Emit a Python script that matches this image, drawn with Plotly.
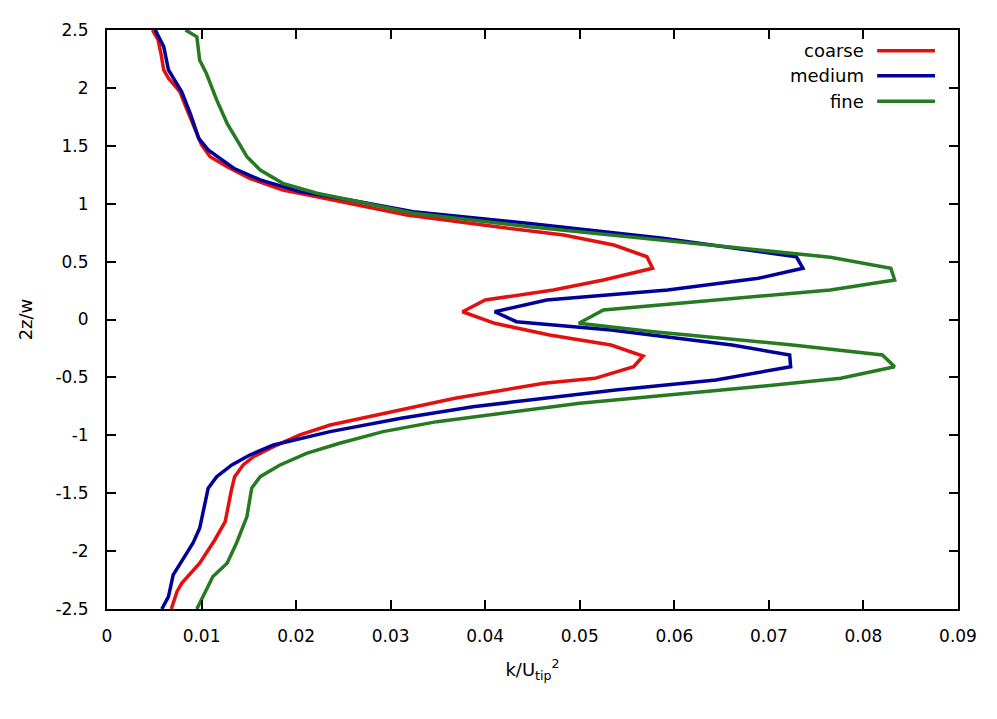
import plotly.graph_objects as go

# k/U_tip^2 profiles against 2z/w
coarse_z = [2.5, 2.414, 2.299, 2.155, 2.083, 1.967, 1.824, 1.608, 1.507, 1.406, 1.32, 1.219,
            1.118, 1.06, 1.003, 0.902, 0.801, 0.729, 0.643, 0.542, 0.442, 0.341, 0.255, 0.168,
            0.067, -0.033, -0.134, -0.22, -0.315, -0.408, -0.508, -0.551, -0.68, -0.796, -0.911,
            -0.997, -1.098, -1.184, -1.256, -1.357, -1.457, -1.745, -1.904, -2.105, -2.278, -2.35, -2.5]
coarse_k = [0.0048, 0.0054, 0.0057, 0.0060, 0.0065, 0.0077, 0.0084, 0.0095, 0.0100, 0.0109, 0.0127, 0.0151,
            0.0186, 0.0222, 0.0257, 0.0317, 0.0412, 0.0483, 0.0536, 0.0571, 0.0577, 0.0525, 0.0472, 0.0400,
            0.0376, 0.0410, 0.0468, 0.0533, 0.0567, 0.0557, 0.0516, 0.0462, 0.0368, 0.0300, 0.0236,
            0.0204, 0.0176, 0.0155, 0.0144, 0.0135, 0.0132, 0.0125, 0.0114, 0.0098, 0.0079, 0.0074, 0.0068]

medium_z = [2.5, 2.356, 2.155, 1.967, 1.78, 1.565, 1.464, 1.306, 1.205, 1.104, 1.032, 0.931, 0.83,
            0.701, 0.542, 0.442, 0.356, 0.255, 0.168, 0.067, -0.019, -0.091, -0.22, -0.306, -0.408,
            -0.522, -0.609, -0.753, -0.853, -0.968, -1.084, -1.17, -1.256, -1.357, -1.457, -1.803,
            -1.93, -2.105, -2.206, -2.393, -2.5]
medium_k = [0.0051, 0.0060, 0.0065, 0.0079, 0.0088, 0.0097, 0.0107, 0.0134, 0.0162, 0.0204, 0.0257, 0.0324, 0.0447,
            0.0588, 0.0729, 0.0736, 0.0689, 0.0593, 0.0465, 0.0410, 0.0433, 0.0533, 0.0661, 0.0722, 0.0723,
            0.0644, 0.0538, 0.0387, 0.0311, 0.0236, 0.0176, 0.0151, 0.0132, 0.0116, 0.0107, 0.0098,
            0.0091, 0.0077, 0.0070, 0.0065, 0.0058]

fine_z = [2.5, 2.442, 2.241, 2.126, 1.896, 1.694, 1.406, 1.291, 1.176, 1.09, 1.032, 0.917, 0.801,
          0.687, 0.614, 0.537, 0.442, 0.341, 0.255, 0.082, -0.033, -0.105, -0.22, -0.306, -0.408,
          -0.508, -0.594, -0.724, -0.882, -0.968, -1.069, -1.156, -1.256, -1.357, -1.457, -1.702,
          -1.93, -2.105, -2.22, -2.393, -2.5]
fine_k = [0.0083, 0.0095, 0.0098, 0.0105, 0.0116, 0.0127, 0.0148, 0.0162, 0.0186, 0.0222, 0.0257, 0.0324, 0.0447,
          0.0588, 0.0676, 0.0765, 0.0829, 0.0833, 0.0765, 0.0525, 0.0499, 0.0578, 0.0725, 0.0820, 0.0833,
          0.0776, 0.0670, 0.0500, 0.0349, 0.0292, 0.0246, 0.0211, 0.0183, 0.0162, 0.0153, 0.0148,
          0.0137, 0.0127, 0.0112, 0.0102, 0.0095]

series_names = ['coarse', 'medium', 'fine']
series_colors = ['#e31010', '#00009a', '#257a22']

x_tickvals = [0, 0.01, 0.02, 0.03, 0.04, 0.05, 0.06, 0.07, 0.08, 0.09]
x_ticktext = ['0', '0.01', '0.02', '0.03', '0.04', '0.05', '0.06', '0.07', '0.08', '0.09']
y_tickvals = [2.5, 2, 1.5, 1, 0.5, 0, -0.5, -1, -1.5, -2, -2.5]
y_ticktext = ['2.5', '2', '1.5', '1', '0.5', '0', '-0.5', '-1', '-1.5', '-2', '-2.5']

FONT = 'DejaVu Sans'

fig = go.Figure()
for name, color, k, z in zip(series_names, series_colors,
                             [coarse_k, medium_k, fine_k], [coarse_z, medium_z, fine_z]):
    fig.add_trace(go.Scatter(x=k, y=z, mode='lines', name=name,
                             line=dict(color=color, width=3.5), showlegend=False))

# gnuplot style key: text on the left, line sample on the right
key_rows = [0.964, 0.921, 0.877]
for name, color, yrow in zip(series_names, series_colors, key_rows):
    fig.add_annotation(xref='paper', yref='paper', x=0.892, y=yrow, text=name,
                       showarrow=False, xanchor='right', yanchor='middle',
                       font=dict(family=FONT, size=18, color='black'))
    fig.add_shape(type='line', xref='paper', yref='paper', x0=0.905, x1=0.973, y0=yrow, y1=yrow,
                  line=dict(color=color, width=3.5))

axis_common = dict(
    showgrid=False, zeroline=False, showline=True, linecolor='black', linewidth=2,
    mirror='ticks', ticks='inside', ticklen=9, tickwidth=1.5, tickcolor='black',
    tickfont=dict(family=FONT, size=17, color='black'),
)

# the page body adds an 8px margin, so the figure is kept a little smaller than the window
fig.update_layout(
    width=981, height=703,
    paper_bgcolor='white', plot_bgcolor='white',
    margin=dict(l=99, r=31, t=22, b=102),
    xaxis=dict(range=[0, 0.09], tickvals=x_tickvals, ticktext=x_ticktext,
               title=dict(text='k/U<sub>tip</sub><sup>2</sup>', standoff=18,
                          font=dict(family=FONT, size=18, color='black')),
               ticklabelstandoff=11, **axis_common),
    yaxis=dict(range=[-2.5, 2.5], tickvals=y_tickvals, ticktext=y_ticktext,
               title=dict(text='2z/w', standoff=18,
                          font=dict(family=FONT, size=18, color='black')),
               ticklabelstandoff=13, **axis_common),
)

fig.write_html("out.html")
